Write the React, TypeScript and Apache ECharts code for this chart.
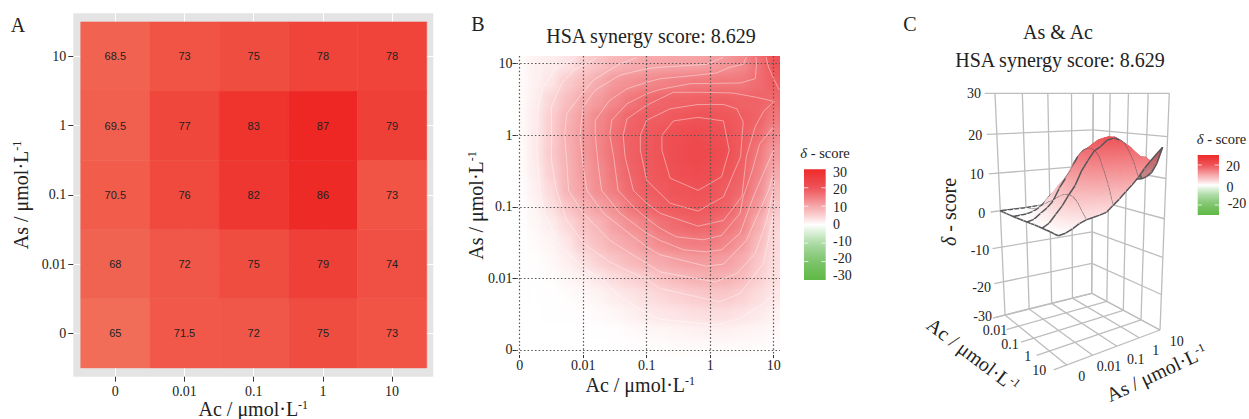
import React, { useEffect, useRef } from "react";
import * as echarts from "echarts";

const W = 1249;
const H = 419;
const SERIF = "Liberation Serif";
const INK = "#222222";

// ---------- data ----------
const doseLabels = ["0", "0.01", "0.1", "1", "10"];
const inhibitionAs0 = [65, 71.5, 72, 75, 73];
const inhibitionAs001 = [68, 72, 75, 79, 74];
const inhibitionAs01 = [70.5, 76, 82, 86, 73];
const inhibitionAs1 = [69.5, 77, 83, 87, 79];
const inhibitionAs10 = [68.5, 73, 75, 78, 78];
const inhibitionRows = [inhibitionAs0, inhibitionAs001, inhibitionAs01, inhibitionAs1, inhibitionAs10];

// delta scores read on quarter-decade steps; row = As step, column = Ac step
const deltaRows = [
  [0, 0, 0, 0, 0, 0, 0.1, 0.1, 0.2, 0.2, 0.3, 0.3, 0.3, 0.3, 0.3, 0.2, 0.2, 0.2],
  [0, 0, 0, 0, 0.1, 0.1, 0.2, 0.4, 0.6, 0.8, 1, 1.1, 1.2, 1.2, 1, 0.8, 0.5, 0.5],
  [0, 0, 0.05, 0.1, 0.2, 0.4, 0.7, 1.2, 1.8, 2.2, 2.5, 2.8, 3, 2.9, 2.5, 1.9, 1.2, 1.1],
  [0, 0.05, 0.1, 0.3, 0.6, 1, 1.7, 2.3, 2.9, 3.5, 4, 4.5, 4.8, 4.7, 4, 3, 2.1, 2],
  [0, 0.1, 0.3, 0.7, 1.3, 2.2, 3.1, 3.9, 4.5, 5.5, 6.3, 6.9, 7.1, 7, 6, 4.2, 2.7, 2.8],
  [0.05, 0.2, 0.6, 1.4, 2.7, 4.1, 5.2, 6.4, 7.4, 8, 8.8, 9.2, 9.2, 8.9, 7.5, 5, 3, 3],
  [0.1, 0.4, 1, 2.2, 4.4, 5.7, 7.3, 8.2, 9.7, 11.2, 12, 12.5, 12.4, 11.5, 9.4, 6.2, 3.3, 3.4],
  [0.1, 0.7, 1.6, 3.3, 5.3, 6.7, 8.8, 10.3, 11.7, 13.5, 14.5, 15.1, 14.7, 13.3, 11.7, 7.5, 3.7, 3.8],
  [0.1, 1, 2.7, 5.1, 7, 8.7, 10.2, 13, 14.7, 16, 16.9, 17.3, 16.9, 15.8, 12.7, 9.5, 5, 5.5],
  [0.1, 1.4, 3.5, 6.9, 8.6, 10.6, 12.5, 14.5, 16.3, 17, 18, 18.3, 17.8, 16, 14.6, 10.8, 6.3, 7],
  [0.2, 1.7, 4.3, 7, 9, 10.9, 13.2, 15.2, 16.8, 17.9, 19, 19.4, 19.2, 17.8, 15.5, 12, 7.8, 8.8],
  [0.2, 1.9, 4.7, 7.1, 9.3, 11.6, 13.6, 15.7, 17.2, 18.3, 19.4, 19.8, 19.6, 18.8, 16.4, 12.9, 9.2, 10.6],
  [0.3, 1.9, 4.5, 7.3, 9.4, 11.5, 13.7, 15.8, 17, 18.2, 19.2, 19.6, 19.1, 18.4, 16.6, 14.3, 10.8, 12],
  [0.3, 1.8, 4.4, 6.9, 8.9, 11.2, 13, 15, 16, 16.3, 17.3, 18, 18, 17.5, 16.5, 15.2, 12.8, 14],
  [0.3, 1.6, 3.7, 5.8, 7.7, 9.2, 11.2, 12.9, 14.4, 15, 15.4, 15.6, 15.7, 15.8, 15.2, 15.2, 14.5, 16],
  [0.3, 1.3, 2.3, 4.6, 6, 7.6, 9.5, 10.3, 11, 11.7, 12.2, 12.7, 12.8, 12.9, 12.9, 14, 16, 20],
  [0.3, 1.3, 1.7, 2.4, 4.3, 5.5, 6.7, 7.5, 8, 8.3, 8.5, 8.7, 9, 9.8, 11, 13.5, 17.5, 22],
  [0.3, 1.1, 1.4, 2, 3.5, 4.6, 5.8, 6.6, 7.1, 7.5, 7.7, 7.9, 8.2, 9, 11, 14, 20, 23],
];

const contourA = [[3.88, 4.09], [3.92, 3.95], [4, 3.79], [4.09, 3.63]];
const contour1 = [[2.42, 3.2], [2.81, 3.25], [3.21, 3.2], [3.3, 2.79], [3.18, 2.42], [2.81, 2.23], [2.37, 2.4], [2.24, 2.79], [2.24, 3], [2.42, 3.2]];
const contour2 = [[1.9, 3], [2, 3.21], [2.37, 3.37], [2.81, 3.43], [3.21, 3.43], [3.42, 3.37], [3.52, 3.19], [3.48, 2.7], [3.21, 2.14], [2.81, 1.94], [2.37, 2.05], [2, 2.37], [1.9, 2.79], [1.9, 3]];
const contour3 = [[4.02, 3.47], [3.73, 3.53], [3.36, 3.59], [2.89, 3.6], [2.42, 3.6], [2.21, 3.51], [2, 3.42], [1.69, 3.23], [1.63, 3], [1.66, 2.7], [1.79, 2.23], [2, 2.05], [2.21, 1.91], [2.81, 1.73], [3.21, 1.81], [3.42, 2.05], [3.5, 2.14], [3.57, 2.7], [3.71, 3.12], [3.84, 3.33], [4, 3.47]];
const contour4 = [[3.72, 4.09], [3.73, 3.99], [3.71, 3.79], [3.47, 3.73], [2.68, 3.72], [2.21, 3.64], [2, 3.58], [1.69, 3.44], [1.45, 3.21], [1.42, 3], [1.48, 2.7], [1.55, 2.23], [1.79, 2], [2, 1.84], [2.21, 1.7], [2.47, 1.58], [2.89, 1.54], [3.18, 1.6], [3.47, 1.91], [3.52, 2.14], [3.65, 2.47], [3.78, 2.88], [4, 3.12]];
const contour5 = [[3.57, 4.09], [3.52, 3.99], [3.31, 3.95], [3.1, 3.87], [2.58, 3.82], [2.21, 3.79], [2, 3.74], [1.69, 3.65], [1.42, 3.49], [1.19, 3.21], [1.19, 3], [1.24, 2.56], [1.29, 2.23], [1.58, 1.91], [2, 1.63], [2.21, 1.53], [2.58, 1.4], [2.94, 1.37], [3.18, 1.4], [3.47, 1.63], [3.68, 2.14], [3.84, 2.47], [4, 2.79]];
const contour6 = [[3.21, 4.09], [2.94, 3.99], [2.21, 3.95], [2, 3.93], [1.58, 3.84], [1.19, 3.63], [1, 3.4], [0.95, 3], [1, 2.56], [1.06, 2.23], [1.32, 1.91], [1.69, 1.65], [2, 1.44], [2.21, 1.33], [2.94, 1.17], [3.21, 1.2], [3.57, 1.53], [3.78, 1.95], [3.92, 2.23], [4, 2.47]];
const contour7 = [[1.84, 4.08], [1.58, 4], [1.16, 3.77], [0.98, 3.58], [0.74, 3.3], [0.71, 3], [0.74, 2.65], [0.77, 2.23], [1, 1.91], [1.42, 1.53], [2, 1.21], [2.21, 1.09], [3.08, 0.95], [3.42, 1.07], [3.71, 1.35], [3.89, 1.81], [3.97, 2.14], [4.02, 2.37]];
const contour8 = [[1.21, 4.08], [1.03, 3.99], [0.85, 3.91], [0.66, 3.72], [0.5, 3.4], [0.5, 3], [0.5, 2.65], [0.58, 2.23], [0.74, 1.81], [1.03, 1.47], [1.42, 1.23], [2, 0.98], [2.21, 0.86], [3.15, 0.67], [3.47, 0.79], [3.84, 1.21], [3.97, 1.77], [4.02, 2.09]];
const contour9 = [[0.9, 4.09], [0.69, 3.99], [0.56, 3.93], [0.37, 3.67], [0.29, 3.4], [0.27, 3], [0.28, 2.65], [0.32, 2.23], [0.4, 1.88], [0.64, 1.44], [1, 1.16], [1.37, 0.93], [1.58, 0.74], [2, 0.51], [2.21, 0.43], [3.1, 0.35], [3.47, 0.44], [3.84, 0.65], [4.07, 0.84]];
const contours = [contourA, contour1, contour2, contour3, contour4, contour5, contour6, contour7, contour8, contour9];

const legendTicksB = [30, 20, 10, 0, -10, -20, -30];
const legendTicksC = [20, 0, -20];
const zTicks = [30, 20, 10, 0, -10, -20, -30];

// ---------- colour scales ----------
const scaleValues = [-30, -25, -20, -15, -10, -5, 0, 5, 10, 15, 20, 25, 30];
const scaleColors = ["#5FB946", "#6DBE58", "#7EC46C", "#94CF88", "#AEDBA6", "#D4EDD0", "#FFFFFF", "#FBD0D1", "#F6A8AA", "#F27C80", "#EE5358", "#EE3F42", "#EE2A2A"];
const mapColors = ["#5FB946", "#6DBE58", "#7EC46C", "#94CF88", "#AEDBA6", "#D4EDD0", "#FFFFFF", "#FAC6C8", "#F39396", "#EF6468", "#EE484C", "#EE3A3D", "#EE2A2A"];

const hexRgb = (h: string) => [1, 3, 5].map((i) => parseInt(h.slice(i, i + 2), 16));
const mix = (a: string, b: string, t: number, dim = 1) => {
  const x = hexRgb(a);
  const y = hexRgb(b);
  const c = x.map((v, i) => Math.round((v + (y[i] - v) * t) * dim));
  return `rgb(${c[0]},${c[1]},${c[2]})`;
};
const deltaColor = (v: number, dim = 1) => {
  const p = Math.max(0, Math.min(11.999, (v + 30) / 5));
  const i = Math.floor(p);
  return mix(scaleColors[i], scaleColors[i + 1], p - i, dim);
};
const inhibitionColor = (v: number) => mix("#F26D58", "#EE2725", (v - 65) / 22);

const legendGradient = () =>
  new echarts.graphic.LinearGradient(
    0, 0, 0, 1,
    scaleValues
      .slice()
      .reverse()
      .map((v, i) => ({ offset: i / 12, color: scaleColors[12 - i] })),
  );

// ---------- 3-D projection for panel C ----------
const floorCorners = { l: [1005, 315], b: [1091.7, 293.3], r: [1160, 330], f: [1066.7, 365] };
const roofCorners = { l: [995, 93.3], b: [1093.3, 93.3], r: [1169.3, 93.3], f: [1052, 93.3] };
const bilinear = (c: any, u: number, v: number, axis: number) =>
  (1 - u) * (1 - v) * c.l[axis] + (1 - u) * v * c.b[axis] + u * v * c.r[axis] + u * (1 - v) * c.f[axis];
const project = (u0: number, v0: number, z: number) => {
  const u = u0 - 0.15 * u0 * (1 - u0);
  const v = v0 + 0.15 * v0 * (1 - v0);
  const s = (30 - z) / 60;
  const f = s + 0.12 * s * (1 - s);
  return [0, 1].map((a) => {
    const top = bilinear(roofCorners, u, v, a);
    return top + (bilinear(floorCorners, u, v, a) - top) * f;
  });
};

const gridSteps = [0, 0.25, 0.5, 0.75, 1];
const frameSegments: number[][] = [];
zTicks.forEach((z) => {
  frameSegments.push([0, -0.09, z, 0, 1, z]);
  frameSegments.push([0, 1, z, 1, 1, z]);
});
gridSteps.forEach((t) => {
  frameSegments.push([0, t, -30, 0, t, 30]);
  frameSegments.push([t, 1, -30, t, 1, 30]);
  frameSegments.push([t, -0.12, -30, t, 1, -30]);
  frameSegments.push([0, t, -30, 1, t, -30]);
});

const surfaceCells: number[][] = [];
for (let k = 0; k < 16; k++) for (let m = 15; m >= 0; m--) surfaceCells.push([k, m]);

const unitRich = {
  n: { fontFamily: SERIF, fontSize: 20, color: INK, lineHeight: 20 },
  s: { fontFamily: SERIF, fontSize: 12, color: INK, verticalAlign: "top", lineHeight: 14 },
};
const deltaRich = (size: number) => ({
  i: { fontFamily: SERIF, fontSize: size, fontStyle: "italic", color: INK },
  n: { fontFamily: SERIF, fontSize: size, color: INK },
});
const unitName = (label: string) => `{n|${label} / μmol·L}{s|-1}`;

const textEl = (text: string, x: number, y: number, size: number, align = "center", extra: any = {}) => ({
  type: "text",
  x,
  y,
  silent: true,
  z: 50,
  ...extra,
  style: { text, fontFamily: SERIF, fontSize: size, fill: INK, align, verticalAlign: "middle", ...(extra.style || {}) },
});

const legendEls = (left: number, top: number, w: number, h: number, ticks: number[]) => {
  const zero = top + h / 2;
  const els: any[] = [
    { type: "rect", z: 40, silent: true, shape: { x: left, y: top, width: w, height: h }, style: { fill: legendGradient() } },
  ];
  ticks.forEach((t) => {
    const y = zero - (t / 30) * (h / 2);
    if (t === 30 || t === -30) return;
    els.push({ type: "rect", z: 41, silent: true, shape: { x: left, y: y - 0.5, width: w * 0.2, height: 1 }, style: { fill: "rgba(255,255,255,0.75)" } });
    els.push({ type: "rect", z: 41, silent: true, shape: { x: left + w * 0.8, y: y - 0.5, width: w * 0.2, height: 1 }, style: { fill: "rgba(255,255,255,0.75)" } });
  });
  return els;
};

const tickAxis = (values: number[], base: any) => ({
  type: "value",
  axisLine: { show: false, onZero: false },
  axisTick: { show: true, length: base.tickLength, customValues: values, lineStyle: { color: "#333", width: 1 } },
  axisLabel: {
    show: true,
    customValues: values,
    margin: base.labelMargin,
    formatter: (v: number) => doseLabels[Math.round(v)],
    fontFamily: SERIF,
    fontSize: 14,
    color: INK,
  },
});

function buildHeatOption() {
  const data: number[][] = [];
  deltaRows.forEach((row, m) => row.forEach((v, k) => data.push([k, m, v])));
  const cols = deltaRows[0].map((_, k) => String(k));
  const rows = deltaRows.map((_, m) => String(m));
  const cellW = 63.5 / 4;
  const cellH = 71.6 / 4;
  return {
    animation: false,
    backgroundColor: "transparent",
    grid: {
      left: 519.7 - cellW / 2,
      top: 350 + cellH / 2 - cellH * rows.length,
      width: cellW * cols.length,
      height: cellH * rows.length,
      outerBoundsMode: "none",
    },
    xAxis: { type: "category", data: cols, show: false },
    yAxis: { type: "category", data: rows, show: false },
    visualMap: { show: false, min: -30, max: 30, calculable: false, inRange: { color: mapColors } },
    series: [{ type: "heatmap", data, silent: true, progressive: 0, itemStyle: { borderWidth: 0 } }],
  };
}

function buildOption() {
  const cellData: number[][] = [];
  inhibitionRows.forEach((row, y) => row.forEach((v, x) => cellData.push([x, y, v])));
  const ticks = [0, 1, 2, 3, 4];

  const graphic: any[] = [
    textEl("A", 18, 25, 20),
    textEl("B", 478, 24, 20),
    textEl("C", 910, 24, 20),
    textEl("HSA synergy score: 8.629", 651, 36, 20),
    textEl("As & Ac", 1058, 31.5, 20),
    textEl("HSA synergy score: 8.629", 1060, 60, 20),
    textEl("{i|δ}{n| - score}", 825, 152.5, 14.5, "center", { style: { rich: deltaRich(14.5) } }),
    textEl("{i|δ}{n| - score}", 1221.5, 139, 14.5, "center", { style: { rich: deltaRich(14.5) } }),
    textEl("{i|δ}{n| - score}", 948.5, 212, 20, "center", { rotation: Math.PI / 2, style: { rich: deltaRich(20) } }),
    textEl(unitName("Ac"), 973, 355, 20, "center", { rotation: -(37 * Math.PI) / 180, style: { rich: unitRich } }),
    textEl(unitName("As"), 1156.5, 373, 20, "center", { rotation: (25 * Math.PI) / 180, style: { rich: unitRich } }),
    ...legendEls(804, 169.3, 21.7, 110.7, legendTicksB),
    ...legendEls(1197.7, 155, 21.3, 60, legendTicksC),
  ];
  legendTicksB.forEach((t, i) => graphic.push(textEl(String(t), 833, 172.7 + i * 17.2, 14, "left")));
  [[20, 1233, 166], [0, 1230, 187], [-20, 1237, 203.5]].forEach(([t, x, y]) => graphic.push(textEl(String(t), x, y, 14)));
  [[30, 974, 93.3], [20, 975.3, 135], [10, 976.7, 174], [0, 981.7, 213], [-10, 980, 250.7], [-20, 981.7, 287], [-30, 982.7, 316.7]].forEach(([t, x, y]) =>
    graphic.push(textEl(String(t), x, y, 14)),
  );
  [[1, 995, 330], [2, 1010, 344], [3, 1027.7, 356.7], [4, 1039.3, 370]].forEach(([i, x, y]) => graphic.push(textEl(doseLabels[i], x, y, 14)));
  [[0, 1081.7, 376.7], [1, 1109, 366.7], [2, 1135.7, 359.3], [3, 1155.7, 350], [4, 1176.7, 341.7]].forEach(([i, x, y]) => graphic.push(textEl(doseLabels[i], x, y, 14)));

  const contourSeries = contours.map((c) => ({
    type: "line",
    xAxisIndex: 1,
    yAxisIndex: 1,
    data: c,
    showSymbol: false,
    symbol: "none",
    silent: true,
    z: 3,
    lineStyle: { color: "rgba(255,255,255,0.42)", width: 1 },
  }));

  const dotted = { show: true, lineStyle: { color: "#555", width: 1.2, type: [1.5, 2.2] } };

  return {
    animation: false,
    backgroundColor: "transparent",
    textStyle: { fontFamily: SERIF },
    graphic: { elements: graphic },
    grid: [
      { left: 73.3, top: 13.3, width: 360, height: 363.4, show: true, backgroundColor: "#E4E4E4", borderWidth: 0, outerBoundsMode: "none" },
      { left: 516.5, top: 56, width: 263.5, height: 299, show: false, outerBoundsMode: "none" },
      { left: 0, top: 0, width: W, height: H, show: false, outerBoundsMode: "none" },
    ],
    xAxis: [
      {
        ...tickAxis(ticks, { tickLength: 5, labelMargin: 8 }),
        gridIndex: 0,
        min: -0.607,
        max: 4.595,
        splitLine: { show: true, lineStyle: { color: "#FFFFFF", width: 1 } },
        name: unitName("Ac"),
        nameLocation: "middle",
        nameGap: 22,
        nameMoveOverlap: false,
        nameTextStyle: { rich: unitRich },
      },
      {
        ...tickAxis(ticks, { tickLength: 3, labelMargin: 3 }),
        gridIndex: 1,
        min: -0.05,
        max: 4.1,
        splitLine: dotted,
        name: unitName("Ac"),
        nameLocation: "middle",
        nameGap: 20,
        nameMoveOverlap: false,
        nameTextStyle: { rich: unitRich, padding: [0, 16, 0, 0] },
      },
      { type: "value", gridIndex: 2, min: 0, max: W, show: false },
    ],
    yAxis: [
      {
        ...tickAxis(ticks, { tickLength: 5, labelMargin: 7 }),
        gridIndex: 0,
        min: -0.627,
        max: 4.624,
        splitLine: { show: true, lineStyle: { color: "#FFFFFF", width: 1 } },
        name: unitName("As"),
        nameLocation: "middle",
        nameGap: 42,
        nameMoveOverlap: false,
        nameTextStyle: { rich: unitRich },
      },
      {
        ...tickAxis(ticks, { tickLength: 4, labelMargin: 4 }),
        gridIndex: 1,
        min: -0.07,
        max: 4.107,
        splitLine: dotted,
        name: unitName("As"),
        nameLocation: "middle",
        nameGap: 31,
        nameMoveOverlap: false,
        nameTextStyle: { rich: unitRich },
      },
      { type: "value", gridIndex: 2, min: 0, max: H, inverse: true, show: false },
    ],
    series: [
      {
        type: "custom",
        xAxisIndex: 0,
        yAxisIndex: 0,
        silent: true,
        clip: false,
        z: 2,
        data: cellData,
        renderItem: (_: any, api: any) => {
          const x = api.value(0);
          const y = api.value(1);
          const v = api.value(2);
          const p = api.coord([x - 0.5, y + 0.5]);
          const q = api.coord([x + 0.5, y - 0.5]);
          const c = api.coord([x, y]);
          const fill = inhibitionColor(v);
          return {
            type: "group",
            children: [
              { type: "rect", shape: { x: p[0], y: p[1], width: q[0] - p[0], height: q[1] - p[1] }, style: { fill, stroke: fill, lineWidth: 0.5 } },
              {
                type: "text",
                z2: 5,
                style: { text: String(v), x: c[0], y: c[1], align: "center", verticalAlign: "middle", fontFamily: "Liberation Sans", fontSize: 11, fill: "#222" },
              },
            ],
          };
        },
      },
      ...contourSeries,
      {
        type: "custom",
        xAxisIndex: 2,
        yAxisIndex: 2,
        silent: true,
        clip: false,
        z: 4,
        data: frameSegments.map((_, i) => [i, 0]),
        renderItem: (params: any, api: any) => {
          const s = frameSegments[params.dataIndex];
          const a = api.coord(project(s[0], s[1], s[2]));
          const b = api.coord(project(s[3], s[4], s[5]));
          return {
            type: "line",
            shape: { x1: a[0], y1: a[1], x2: b[0], y2: b[1] },
            style: { stroke: "#BDBDBD", lineWidth: 1.3 },
          };
        },
      },
      {
        type: "custom",
        xAxisIndex: 2,
        yAxisIndex: 2,
        silent: true,
        clip: false,
        z: 5,
        data: surfaceCells,
        renderItem: (params: any, api: any) => {
          const [k, m] = surfaceCells[params.dataIndex];
          const pt = (a: number, b: number) => api.coord(project((a / 16) * 0.98, (b / 16) * 0.97, deltaRows[b][a]));
          const p00 = pt(k, m);
          const p10 = pt(k + 1, m);
          const p11 = pt(k + 1, m + 1);
          const p01 = pt(k, m + 1);
          const area = (p10[0] - p00[0]) * (p01[1] - p00[1]) - (p10[1] - p00[1]) * (p01[0] - p00[0]);
          const dim = area > 0 ? 0.8 : 1;
          const corners = [
            { p: p00, v: deltaRows[m][k] },
            { p: p10, v: deltaRows[m][k + 1] },
            { p: p11, v: deltaRows[m + 1][k + 1] },
            { p: p01, v: deltaRows[m + 1][k] },
          ].sort((a, b) => a.p[1] - b.p[1]);
          const hi = corners[0];
          const lo = corners[3];
          const fill: any =
            lo.p[1] - hi.p[1] > 0.5
              ? new echarts.graphic.LinearGradient(
                  hi.p[0], hi.p[1], hi.p[0], lo.p[1],
                  [
                    { offset: 0, color: deltaColor(hi.v, dim) },
                    { offset: 1, color: deltaColor(lo.v, dim) },
                  ],
                  true,
                )
              : deltaColor(hi.v, dim);
          const kids: any[] = [
            { type: "polygon", shape: { points: [p00, p10, p11, p01] }, style: { fill, stroke: fill, lineWidth: 0.7 } },
          ];
          const edge = (a: number[], b: number[]) =>
            kids.push({ type: "line", shape: { x1: a[0], y1: a[1], x2: b[0], y2: b[1] }, style: { stroke: "#55555A", lineWidth: 1.5 } });
          if (k % 4 === 0) edge(p00, p01);
          if (m % 4 === 0) edge(p00, p10);
          if (k === 15) edge(p10, p11);
          if (m === 15) edge(p01, p11);
          return { type: "group", children: kids };
        },
      },
    ],
  };
}

export default function App() {
  const heatRef = useRef<HTMLDivElement>(null);
  const mainRef = useRef<HTMLDivElement>(null);
  useEffect(() => {
    const heat = echarts.init(heatRef.current!, undefined, { renderer: "svg" });
    heat.setOption(buildHeatOption() as any);
    const main = echarts.init(mainRef.current!, undefined, { renderer: "svg" });
    main.setOption(buildOption() as any);
    return () => {
      heat.dispose();
      main.dispose();
    };
  }, []);
  return (
    <div style={{ position: "absolute", left: 0, top: 0, width: W, height: H, overflow: "hidden", background: "#fff" }}>
      <div style={{ position: "absolute", left: 0, top: 0, width: W, height: H, clipPath: `inset(56px ${W - 780}px ${H - 356}px 518px)` }}>
        <div ref={heatRef} style={{ width: W, height: H, filter: "blur(5px)" }} />
      </div>
      <div ref={mainRef} style={{ position: "absolute", left: 0, top: 0, width: W, height: H }} />
    </div>
  );
}
